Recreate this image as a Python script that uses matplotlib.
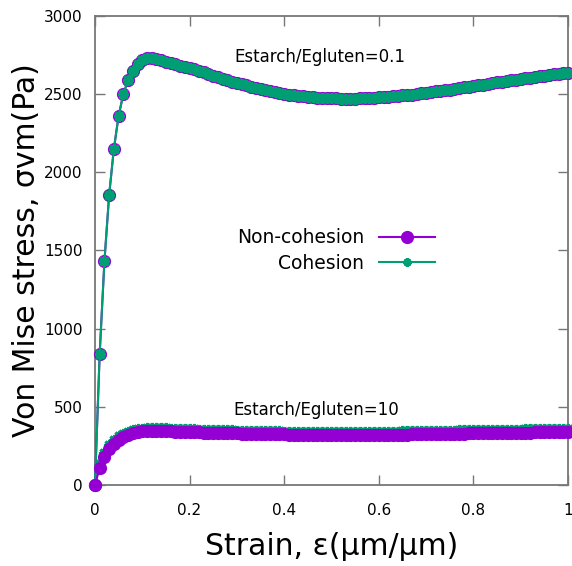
import matplotlib.pyplot as plt
from matplotlib.ticker import FormatStrFormatter

# strain sampled every 0.01 in the picture
strain = [i / 100 for i in range(101)]

# Estarch/Egluten = 0.1
stress_noncoh_01 = [
    0, 840, 1430, 1855, 2150, 2360, 2500, 2590, 2650, 2690,
    2715, 2728, 2730, 2725, 2716, 2705, 2697, 2690, 2682, 2675,
    2666, 2657, 2648, 2638, 2628, 2618, 2608, 2598, 2589, 2580,
    2571, 2563, 2555, 2547, 2539, 2532, 2525, 2518, 2512, 2506,
    2501, 2496, 2492, 2488, 2485, 2482, 2479, 2477, 2475, 2474,
    2473, 2472, 2471, 2471, 2471, 2471, 2472, 2473, 2474, 2476,
    2478, 2480, 2482, 2485, 2488, 2491, 2494, 2497, 2501, 2505,
    2509, 2513, 2517, 2521, 2525, 2529, 2533, 2538, 2542, 2547,
    2551, 2556, 2560, 2565, 2569, 2574, 2578, 2583, 2587, 2592,
    2596, 2601, 2605, 2610, 2614, 2618, 2622, 2626, 2629, 2632,
    2635,
]
stress_coh_01 = [
    0, 840, 1430, 1855, 2150, 2360, 2500, 2590, 2650, 2690,
    2715, 2728, 2730, 2725, 2716, 2705, 2697, 2690, 2682, 2675,
    2666, 2657, 2648, 2638, 2628, 2618, 2608, 2598, 2589, 2580,
    2571, 2563, 2555, 2547, 2539, 2532, 2525, 2518, 2512, 2506,
    2501, 2496, 2492, 2488, 2485, 2482, 2479, 2477, 2475, 2474,
    2473, 2472, 2471, 2471, 2471, 2471, 2472, 2473, 2474, 2476,
    2478, 2480, 2482, 2485, 2488, 2491, 2494, 2497, 2501, 2505,
    2509, 2513, 2517, 2521, 2525, 2529, 2533, 2538, 2542, 2547,
    2551, 2556, 2560, 2565, 2569, 2574, 2578, 2583, 2587, 2592,
    2596, 2601, 2605, 2610, 2614, 2618, 2622, 2626, 2629, 2632,
    2635,
]

# Estarch/Egluten = 10
stress_noncoh_10 = [
    0, 110, 180, 230, 265, 290, 308, 322, 332, 339,
    343, 345, 346, 346, 345, 344, 343, 342, 341, 340,
    339, 338, 337, 336, 335, 334, 333, 332, 331, 330,
    330, 329, 328, 328, 327, 326, 326, 325, 325, 324,
    324, 323, 323, 323, 322, 322, 322, 321, 321, 321,
    321, 320, 320, 320, 320, 320, 320, 320, 321, 321,
    321, 321, 322, 322, 322, 323, 323, 324, 324, 325,
    325, 326, 326, 327, 327, 328, 328, 329, 329, 330,
    330, 331, 331, 332, 332, 333, 333, 334, 334, 335,
    335, 336, 336, 337, 337, 338, 338, 339, 339, 340,
    340,
]
stress_coh_10 = [
    0, 135, 205, 254, 289, 312, 329, 342, 351, 357,
    361, 363, 364, 364, 363, 362, 361, 360, 359, 358,
    357, 356, 355, 354, 353, 352, 351, 350, 349, 349,
    348, 347, 347, 346, 345, 345, 344, 344, 343, 343,
    342, 342, 342, 341, 341, 341, 341, 340, 340, 340,
    340, 340, 340, 340, 340, 340, 340, 340, 341, 341,
    341, 341, 342, 342, 342, 343, 343, 344, 344, 345,
    345, 346, 346, 347, 347, 348, 348, 349, 349, 350,
    350, 351, 351, 352, 352, 353, 353, 354, 354, 355,
    355, 356, 356, 357, 357, 358, 358, 359, 359, 360,
    361,
]

purple = "#9400D3"
green = "#009E73"

fig = plt.figure(figsize=(5.72, 5.66), dpi=100)
ax = fig.add_axes([0.166, 0.143, 0.827, 0.829])

circle = dict(color=purple, lw=1.5, marker="o", ms=9.5, mew=0, clip_on=False)
star = dict(color=green, lw=1.5, marker=(8, 2, 0), ms=8, mew=2.2, clip_on=False)

ax.plot(strain, stress_noncoh_01, label="Non-cohesion", zorder=3, **circle)
ax.plot(strain, stress_coh_01, label="Cohesion", zorder=4, **star)
ax.plot(strain, stress_coh_10, zorder=3, **star)
ax.plot(strain, stress_noncoh_10, zorder=4, **circle)

ax.set_xlim(0, 1)
ax.set_ylim(0, 3000)
ax.set_xticks([0, 0.2, 0.4, 0.6, 0.8, 1])
ax.set_yticks(range(0, 3001, 500))
ax.xaxis.set_major_formatter(FormatStrFormatter("%g"))
ax.tick_params(direction="in", top=True, right=True, length=7, width=1,
               color="#777777", labelsize=11, pad=9)
ax.tick_params(axis="x", pad=13)
for s in ax.spines.values():
    s.set_color("#777777")
    s.set_linewidth(1.3)

ax.set_xlabel("Strain, ε(μm/μm)", fontsize=21.5, labelpad=10)
ax.set_ylabel("Von Mise stress, σvm(Pa)", fontsize=21.5, labelpad=2)

ax.text(0.476, 2738, "Estarch/Egluten=0.1", fontsize=12, ha="center", va="center")
ax.text(0.467, 480, "Estarch/Egluten=10", fontsize=12, ha="center", va="center")

leg = ax.legend(loc="center", bbox_to_anchor=(0.51, 0.5), frameon=False,
                markerfirst=False, fontsize=13.5, handlelength=3.0,
                handletextpad=0.8, labelspacing=0.35)
leg.legend_handles[1].set_markersize(6)
leg.legend_handles[1].set_markeredgewidth(1.8)

fig.savefig("out.png", dpi=100)
